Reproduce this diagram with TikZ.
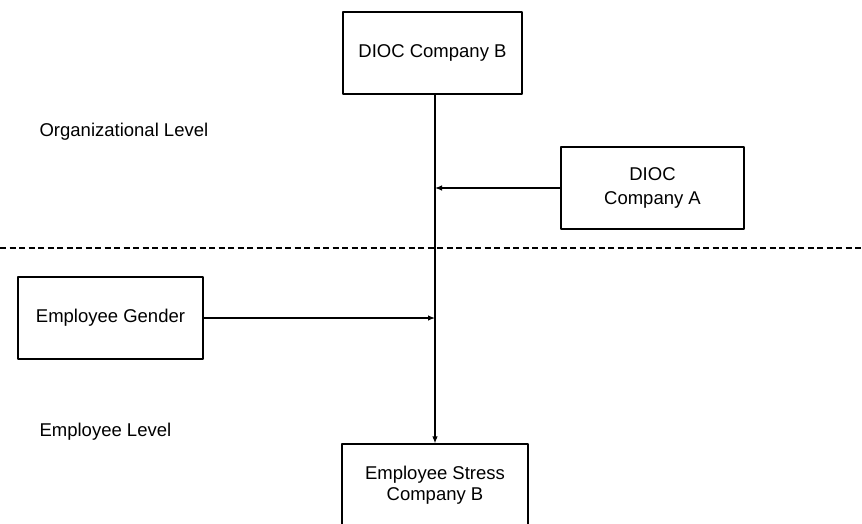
\documentclass[tikz,border=0pt]{standalone}
\usepackage{fontspec}
\setmainfont{Liberation Sans}
\usetikzlibrary{positioning,arrows.meta}

\begin{document}
\begin{tikzpicture}[x=1pt, y=-1pt, >={Latex[length=7pt,width=5.5pt]}, font=\fontsize{18.5}{23.5}\selectfont, line join=round, line cap=round, line width=1.2pt]
	\tikzset{box/.style={draw, align=center, inner sep=0pt, minimum height=82pt},
		lvl/.style={anchor=base west, inner sep=0pt}}
	\useasboundingbox (0,0) rectangle (862,524);
	
	% [Levels - Layer 1]
	\draw[dash pattern=on 6pt off 3.5pt, line cap=butt] (0,248) -- (862,248);
	\node[lvl] (OrgLvl) at (39,137) {Organizational Level};
	\node[lvl] (EmpLvl) at (39,436) {Employee Level};
	
	% [Boxes - Layer 2]
	\node[box, minimum width=179pt] (TopB) at (432.5,53) {DIOC Company B};
	\node[box, minimum width=183pt] (CompA) at (652.5,188) {DIOC\\Company A};
	\node[box, minimum width=185pt] (Gender) at (110.5,318) {Employee Gender};
	\node[box, minimum width=186pt] (Stress) at (435,485) {Employee Stress\\[-3pt]Company B};
	
	% [Arrows - Layer 3]
	\draw[->] (TopB.south -| Stress.north) -- (Stress.north);
	\draw[->] (CompA.west) -- (CompA.west -| Stress.north);
	\draw[->] (Gender.east) -- (Gender.east -| Stress.north);
\end{tikzpicture}
\end{document}
